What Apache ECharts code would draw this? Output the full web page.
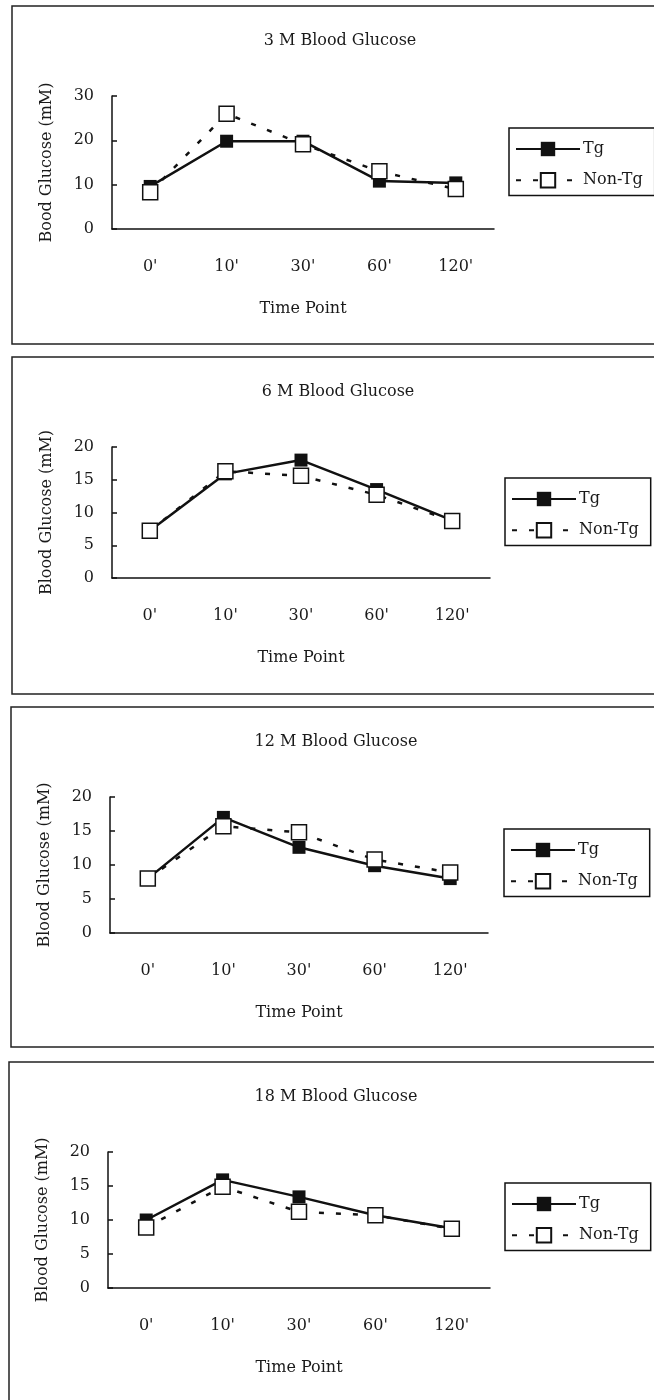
<!DOCTYPE html>
<html><head><meta charset="utf-8">
<script src="https://cdn.jsdelivr.net/npm/echarts@6/dist/echarts.min.js"></script>
<style>html,body{margin:0;padding:0;background:#fff}#c{width:654px;height:1400px}</style>
</head><body><div id="c"></div>
<script>
// ---- data ----
const timePoints = ["0'", "10'", "30'", "60'", "120'"];
const panelTitles = ["3 M Blood Glucose", "6 M Blood Glucose", "12 M Blood Glucose", "18 M Blood Glucose"];
const yAxisNames = ["Bood Glucose (mM)", "Blood Glucose (mM)", "Blood Glucose (mM)", "Blood Glucose (mM)"];
const xAxisName = "Time Point";
const seriesNames = ["Tg", "Non-Tg"];
const yMax = [30, 20, 20, 20];
const yInterval = [10, 5, 5, 5];

const tg3M    = [9.6, 19.8, 19.8, 10.8, 10.4];
const nonTg3M = [8.3, 26.0, 19.1, 13.0, 9.0];
const tg6M    = [7.2, 15.9, 18.0, 13.5, 8.8];
const nonTg6M = [7.2, 16.3, 15.6, 12.7, 8.7];
const tg12M    = [8.0, 17.0, 12.6, 9.9, 8.0];
const nonTg12M = [8.0, 15.7, 14.8, 10.8, 8.9];
const tg18M    = [10.0, 15.9, 13.4, 10.7, 8.8];
const nonTg18M = [8.9, 14.9, 11.2, 10.7, 8.7];

const tgSeries = [tg3M, tg6M, tg12M, tg18M];
const nonTgSeries = [nonTg3M, nonTg6M, nonTg12M, nonTg18M];

// ---- layout (pixels) ----
const layout = [
  {top: 6,    bottom: 344,  left: 12, gL: 112, gR: 494, gT: 96,   gB: 229,  lL: 509, lT: 128},
  {top: 357,  bottom: 694,  left: 12, gL: 112, gR: 490, gT: 447,  gB: 578,  lL: 505, lT: 478},
  {top: 707,  bottom: 1047, left: 11, gL: 110, gR: 488, gT: 797,  gB: 933,  lL: 504, lT: 829},
  {top: 1062, bottom: 1460, left: 9,  gL: 108, gR: 490, gT: 1152, gB: 1288, lL: 505, lT: 1183}
];

const FONT = 'DejaVu Serif';
const INK = '#111';
const txt = {fontFamily: FONT, fontSize: 16, color: '#1a1a1a'};

const option = {
  animation: false,
  backgroundColor: '#fff',
  title: [], legend: [], grid: [], xAxis: [], yAxis: [], series: [], graphic: []
};

layout.forEach((p, i) => {
  option.graphic.push({
    type: 'rect', silent: true, z: -1,
    shape: {x: p.left, y: p.top, width: 700, height: p.bottom - p.top},
    style: {fill: 'none', stroke: '#222', lineWidth: 1.5}
  });
  option.title.push({
    text: panelTitles[i], left: (p.gL + p.gR) / 2 + 32, top: p.top + 22, textAlign: 'center',
    textStyle: Object.assign({}, txt, {fontWeight: 'normal'})
  });
  option.grid.push({left: p.gL, top: p.gT, width: p.gR - p.gL, height: p.gB - p.gT, containLabel: false});
  option.xAxis.push({
    type: 'category', gridIndex: i, data: timePoints, boundaryGap: true,
    name: xAxisName, nameLocation: 'middle', nameGap: 72, nameTextStyle: txt,
    axisLine: {lineStyle: {color: INK, width: 1.5}},
    axisTick: {inside: true, length: 5, lineStyle: {color: INK, width: 1.5}},
    axisLabel: Object.assign({margin: 30}, txt),
    splitLine: {show: false}
  });
  option.yAxis.push({
    type: 'value', gridIndex: i, min: 0, max: yMax[i], interval: yInterval[i],
    name: yAxisNames[i], nameLocation: 'middle', nameGap: 57, nameRotate: 90, nameTextStyle: txt,
    axisLine: {show: true, lineStyle: {color: INK, width: 1.5}},
    axisTick: {show: true, inside: true, length: 5, lineStyle: {color: INK, width: 1.5}},
    axisLabel: Object.assign({margin: 18}, txt),
    splitLine: {show: false}
  });
  option.legend.push({
    orient: 'vertical', left: p.lL, top: p.lT, data: seriesNames,
    backgroundColor: '#fff', borderColor: INK, borderWidth: 1.5, borderRadius: 0,
    padding: [13, 12, 7, 6], itemGap: 15, itemWidth: 64, itemHeight: 18,
    textStyle: Object.assign({padding: [0, 0, 0, -2]}, txt), selectedMode: false
  });
  option.series.push({
    name: seriesNames[0], type: 'line', xAxisIndex: i, yAxisIndex: i, data: tgSeries[i],
    symbol: 'rect', symbolSize: 13,
    itemStyle: {color: INK},
    lineStyle: {color: INK, width: 2.5},
    z: 2
  });
  option.series.push({
    name: seriesNames[1], type: 'line', xAxisIndex: i, yAxisIndex: i, data: nonTgSeries[i],
    symbol: 'rect', symbolSize: 15,
    itemStyle: {color: '#fff', borderColor: INK, borderWidth: 1.5},
    lineStyle: {color: INK, width: 2.5, type: [5, 12]},
    z: 3
  });
});

const chart = echarts.init(document.getElementById('c'), null, {renderer: 'canvas'});
chart.setOption(option);
</script>
</body></html>
